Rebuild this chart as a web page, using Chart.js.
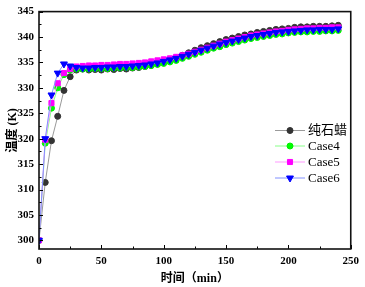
<!DOCTYPE html>
<html>
<head>
<meta charset="utf-8">
<script src="https://cdn.jsdelivr.net/npm/chart.js@4.4.1/dist/chart.umd.min.js"></script>
<style>
  html, body { margin: 0; padding: 0; background: #fff; }
  canvas { display: block; }
</style>
</head>
<body>
<canvas id="chartTemp" width="365" height="287"></canvas>
<script>
// 温度随时间变化: 纯石蜡, Case4, Case5, Case6
const timesMin = [0, 5, 10, 15, 20, 25, 30, 35, 40, 45, 50, 55, 60, 65, 70, 75, 80, 85, 90, 95,
    100, 105, 110, 115, 120, 125, 130, 135, 140, 145, 150, 155, 160, 165, 170, 175, 180, 185, 190, 195,
    200, 205, 210, 215, 220, 225, 230, 235, 240];

const tempParaffin = [300.0, 311.4, 319.6, 324.4, 329.5, 332.2, 333.5, 333.7, 333.5, 333.6, 333.5, 333.7, 333.6, 333.8, 333.7, 333.9, 334.0, 334.2, 334.4, 334.7,
    335.0, 335.4, 335.9, 336.4, 336.9, 337.4, 337.9, 338.3, 338.7, 339.1, 339.5, 339.8, 340.1, 340.4, 340.6, 340.9, 341.1, 341.3, 341.5, 341.6,
    341.7, 341.9, 342.0, 342.0, 342.1, 342.1, 342.1, 342.2, 342.3];

const tempCase4 = [300.0, 319.1, 326.0, 330.0, 332.6, 333.5, 333.7, 333.7, 333.7, 333.8, 333.8, 333.8, 333.9, 333.9, 334.0, 334.0, 334.1, 334.2, 334.4, 334.6,
    334.8, 335.1, 335.4, 335.8, 336.2, 336.6, 337.0, 337.4, 337.8, 338.1, 338.5, 338.8, 339.1, 339.4, 339.7, 339.9, 340.1, 340.3, 340.5, 340.6,
    340.8, 340.9, 341.0, 341.0, 341.1, 341.1, 341.2, 341.2, 341.3];

const tempCase5 = [300.0, 319.8, 327.0, 330.9, 332.9, 333.7, 334.2, 334.3, 334.4, 334.4, 334.5, 334.5, 334.6, 334.7, 334.7, 334.8, 334.9, 335.0, 335.2, 335.4,
    335.6, 335.8, 336.1, 336.4, 336.7, 337.1, 337.5, 337.9, 338.3, 338.7, 339.1, 339.4, 339.7, 340.0, 340.3, 340.5, 340.7, 340.9, 341.1, 341.2,
    341.4, 341.5, 341.6, 341.7, 341.7, 341.8, 341.8, 341.9, 341.9];

const tempCase6 = [300.0, 320.0, 328.6, 332.9, 334.7, 334.3, 334.0, 333.9, 333.9, 334.0, 334.0, 334.1, 334.1, 334.2, 334.2, 334.3, 334.4, 334.5, 334.7, 334.9,
    335.2, 335.5, 335.8, 336.2, 336.6, 337.0, 337.4, 337.8, 338.2, 338.6, 338.9, 339.2, 339.5, 339.8, 340.1, 340.3, 340.5, 340.7, 340.9, 341.0,
    341.1, 341.2, 341.3, 341.4, 341.4, 341.5, 341.5, 341.5, 341.6];

const xTicksMajor = [0, 50, 100, 150, 200, 250];
const xTicksMinor = [25, 75, 125, 175, 225];
const yTicksMajor = [300, 305, 310, 315, 320, 325, 330, 335, 340, 345];
const yTicksMinor = [302.5, 307.5, 312.5, 317.5, 322.5, 327.5, 332.5, 337.5, 342.5];

const seriesNames = ['纯石蜡', 'Case4', 'Case5', 'Case6'];

const toPoints = (vals) => vals.map((v, i) => ({ x: timesMin[i], y: v }));

// frame, inward ticks and in-plot legend
const framePlugin = {
    id: 'frame',
    afterDraw(chart) {
        const ctx = chart.ctx;
        const a = chart.chartArea;
        const xs = chart.scales.x, ys = chart.scales.y;
        ctx.save();
        ctx.strokeStyle = '#000';
        ctx.lineWidth = 1;
        xTicksMajor.concat(xTicksMinor).forEach(function(t) {
            const px = Math.round(xs.getPixelForValue(t)) + 0.5;
            const len = xTicksMajor.includes(t) ? 4 : 2.5;
            ctx.beginPath();
            ctx.moveTo(px, a.bottom);
            ctx.lineTo(px, a.bottom - len);
            ctx.stroke();
        });
        yTicksMajor.concat(yTicksMinor).forEach(function(t) {
            const py = Math.round(ys.getPixelForValue(t)) + 0.5;
            const len = yTicksMajor.includes(t) ? 4 : 2.5;
            ctx.beginPath();
            ctx.moveTo(a.left, py);
            ctx.lineTo(a.left + len, py);
            ctx.stroke();
        });
        ctx.lineWidth = 1.6;
        ctx.strokeStyle = '#111';
        ctx.strokeRect(a.left, a.top, a.right - a.left, a.bottom - a.top);

        // legend
        const rows = [130.5, 146, 162, 178];
        chart.data.datasets.forEach(function(ds, i) {
            const y = rows[i];
            ctx.strokeStyle = ds.borderColor;
            ctx.lineWidth = 1;
            ctx.beginPath();
            ctx.moveTo(275, y);
            ctx.lineTo(305, y);
            ctx.stroke();
            ctx.fillStyle = ds.pointBackgroundColor;
            ctx.strokeStyle = ds.pointBorderColor;
            Chart.helpers.drawPoint(ctx, {
                pointStyle: ds.pointStyle,
                rotation: ds.pointRotation || 0,
                radius: ds.pointRadius,
                borderWidth: 1
            }, 290, y);
            ctx.fillStyle = '#000';
            ctx.font = '13px "Liberation Serif", "Noto Sans CJK SC", serif';
            ctx.textBaseline = 'middle';
            ctx.textAlign = 'left';
            ctx.fillText(ds.label, 308, y + 0.5);
        });
        ctx.restore();
    }
};

const ctxTemp = document.getElementById('chartTemp').getContext('2d');
const chartTemp = new Chart(ctxTemp, {
    type: 'line',
    data: {
        datasets: [{
            label: seriesNames[0],
            data: toPoints(tempParaffin),
            borderColor: '#9a9a9a',
            pointBackgroundColor: '#333333',
            pointBorderColor: '#333333',
            pointStyle: 'circle',
            pointRadius: 3,
            order: 4
        }, {
            label: seriesNames[1],
            data: toPoints(tempCase4),
            borderColor: '#88ff88',
            pointBackgroundColor: '#00ff00',
            pointBorderColor: '#00ee00',
            pointStyle: 'circle',
            pointRadius: 3,
            order: 3
        }, {
            label: seriesNames[2],
            data: toPoints(tempCase5),
            borderColor: '#ff99ff',
            pointBackgroundColor: '#ff00ff',
            pointBorderColor: '#ff00ff',
            pointStyle: 'rect',
            pointRadius: 3.6,
            order: 2
        }, {
            label: seriesNames[3],
            data: toPoints(tempCase6),
            borderColor: '#8090ff',
            pointBackgroundColor: '#0000ff',
            pointBorderColor: '#0000ff',
            pointStyle: 'triangle',
            pointRotation: 180,
            pointRadius: 4,
            order: 1
        }]
    },
    options: {
        responsive: false,
        animation: false,
        devicePixelRatio: 1,
        layout: { padding: { top: 5, right: 8, left: 0, bottom: 0 } },
        elements: {
            line: { borderWidth: 1, tension: 0 },
            point: { borderWidth: 1 }
        },
        plugins: {
            legend: { display: false },
            tooltip: { enabled: false }
        },
        scales: {
            x: {
                type: 'linear',
                min: 0,
                max: 250,
                afterFit: function(s) { s.height = 38; },
                grid: { display: false, drawTicks: false },
                border: { display: false },
                ticks: {
                    stepSize: 50,
                    padding: 6,
                    autoSkip: false,
                    maxRotation: 0,
                    color: '#000',
                    font: { family: '"Liberation Serif", serif', size: 11, weight: 'bold' }
                },
                title: {
                    display: true,
                    text: '时间（min）',
                    color: '#000',
                    padding: { top: 2, bottom: 1 },
                    font: { family: '"Liberation Serif", "Noto Sans CJK SC", serif', size: 12, weight: 'bold' }
                }
            },
            y: {
                min: 298.3,
                max: 345,
                afterFit: function(s) { s.width = 39; },
                afterBuildTicks: function(s) {
                    s.ticks = yTicksMajor.map(function(v) { return { value: v }; });
                },
                grid: { display: false, drawTicks: false },
                border: { display: false },
                ticks: {
                    padding: 5,
                    autoSkip: false,
                    color: '#000',
                    font: { family: '"Liberation Serif", serif', size: 11, weight: 'bold' }
                },
                title: {
                    display: true,
                    text: '温度 (K)',
                    color: '#000',
                    padding: { top: 6, bottom: 2 },
                    font: { family: '"Liberation Serif", "Noto Sans CJK SC", serif', size: 12, weight: 'bold' }
                }
            }
        }
    },
    plugins: [framePlugin]
});
</script>
</body>
</html>
